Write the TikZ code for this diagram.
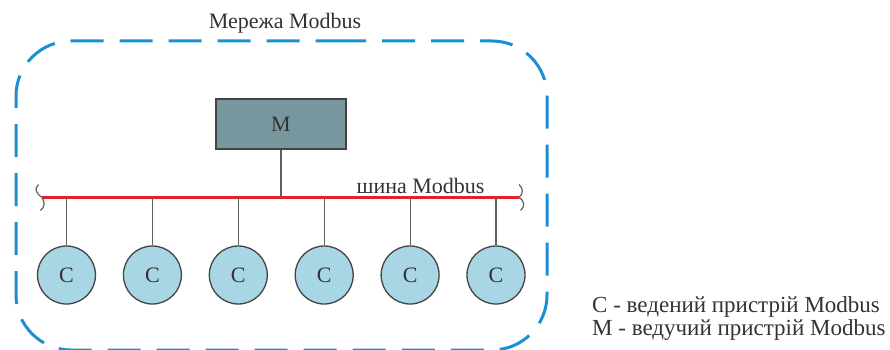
\documentclass[tikz,border=0pt]{standalone}
\usepackage{fontspec}
\setmainfont{Liberation Serif}
\definecolor{netblue}{HTML}{1B8FD3}
\definecolor{busred}{HTML}{E3202C}
\definecolor{masterfill}{HTML}{77969E}
\definecolor{slavefill}{HTML}{A8D6E4}
\definecolor{edgegrey}{HTML}{444444}
\definecolor{txtgrey}{HTML}{333333}
\begin{document}
\begin{tikzpicture}[x=1pt,y=-1pt,
  every node/.style={font=\fontsize{22}{24}\selectfont, text=txtgrey},
  network/.style={draw=netblue, line width=3pt, dash pattern=on 33pt off 16pt, dash phase=3pt, rounded corners=55pt},
  master/.style={draw=edgegrey, fill=masterfill, line width=1.3pt, minimum width=130pt, minimum height=50pt, inner sep=0pt},
  slave/.style={circle, draw=edgegrey, fill=slavefill, line width=1.3pt, minimum size=58pt, inner sep=0pt},
  bus/.style={draw=busred, line width=3pt},
  drop/.style={draw=edgegrey!85, line width=1.1pt},
  busend/.style={draw=edgegrey!85, line width=1.2pt},
  legend/.style={anchor=base west, inner sep=0pt, font=\fontsize{23}{25}\selectfont}]
\useasboundingbox (0,0) rectangle (890,350);

% network boundary
\draw[network] (281,41) -- (547,41) -- (547,350) -- (16,350) -- (16,41) -- cycle;
\node[anchor=base] (title) at (285,28.5) {Мережа Modbus};

% master device
\node[master] (M) at (281,124) {М};

% bus line and its open ends
\coordinate (busL) at (42,197.5);
\coordinate (busR) at (519,197.5);
\draw[bus] (busL) -- (busR);
\draw[busend] (38.5,184.5) .. controls (34,189) and (36,193) .. (busL)
  .. controls (45,202) and (45,207) .. (40.5,210.5);
\draw[busend] (519,184.5) .. controls (524,189) and (523,194) .. (busR)
  .. controls (525,201) and (525,207) .. (520.5,210.5);
\node[anchor=base] (buslabel) at (420.5,193) {шина Modbus};

% master drop
\draw[drop] (M.south) -- (M.south |- busL);

% slave devices and their drops
\foreach \i in {0,...,5} {
  \node[slave] (s\i) at (66.5+85.9*\i,275) {С};
  \draw[drop] (s\i.north) -- (s\i.north |- busL);
}

% legend
\node[legend] (leg1) at (592,312) {С - ведений пристрій Modbus};
\node[legend] (leg2) at (592,335.5) {М - ведучий пристрій Modbus};
\end{tikzpicture}
\end{document}
